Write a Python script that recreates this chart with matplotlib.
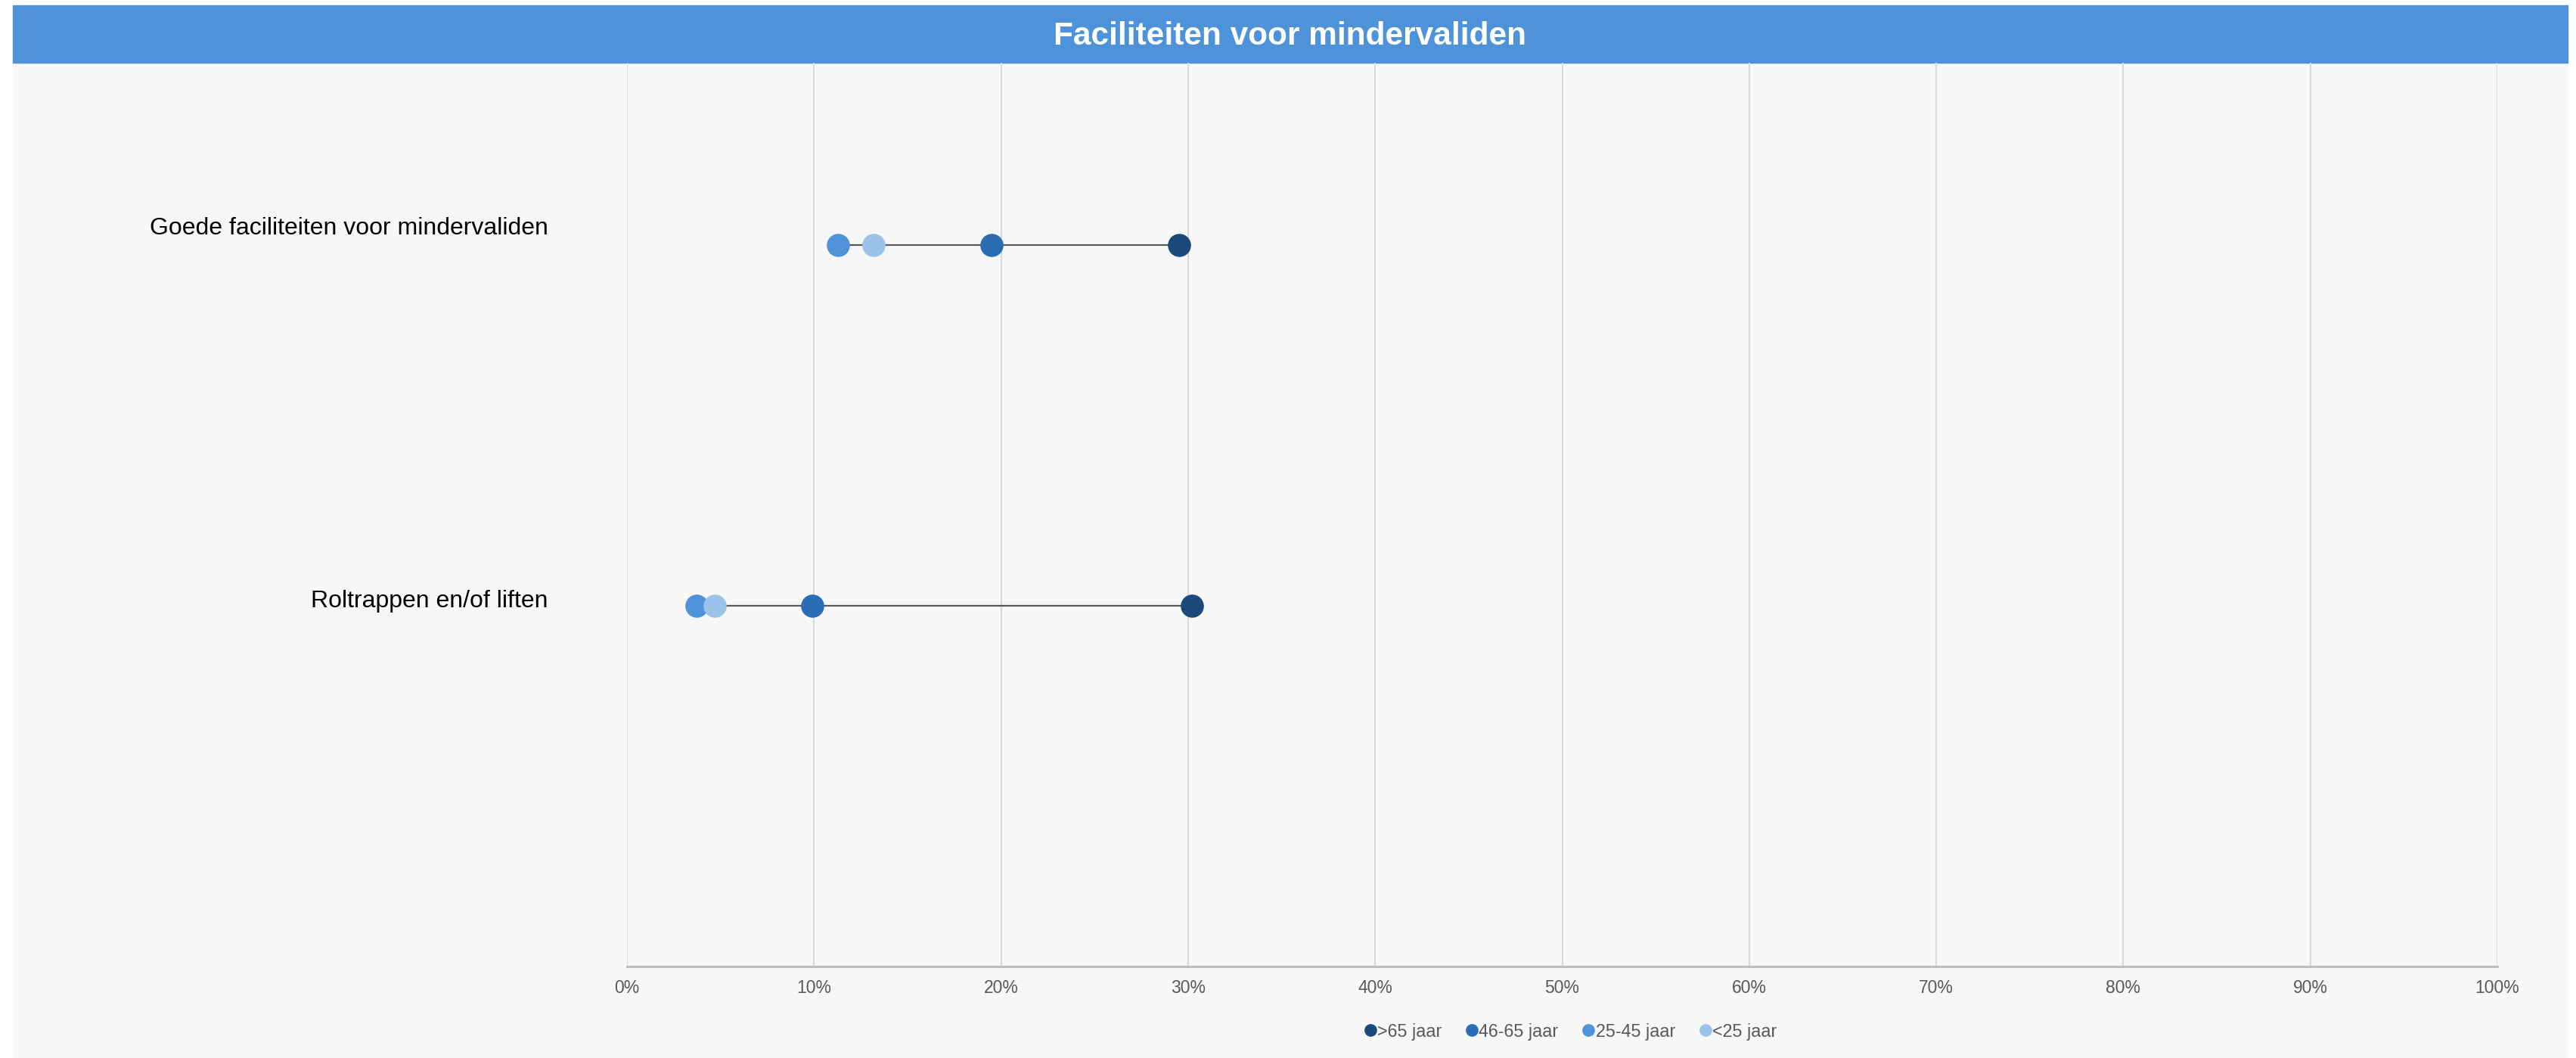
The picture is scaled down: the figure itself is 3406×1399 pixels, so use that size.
import matplotlib
matplotlib.use("Agg")
import matplotlib.pyplot as plt
from matplotlib.patches import Rectangle
from matplotlib.lines import Line2D
from matplotlib.ticker import PercentFormatter

plt.rcParams['font.family'] = ['Liberation Sans', 'DejaVu Sans']

# data
categories = ['Goede faciliteiten voor mindervaliden', 'Roltrappen en/of liften']
groups = ['>65 jaar', '46-65 jaar', '25-45 jaar', '<25 jaar']
ouder_65 = [29.5, 30.2]
jaar_46_65 = [19.5, 9.9]
jaar_25_45 = [11.3, 3.7]
jonger_25 = [13.2, 4.7]
x_ticks = [0, 10, 20, 30, 40, 50, 60, 70, 80, 90, 100]

colors = ['#1b4a7a', '#2a6db4', '#4e93d8', '#9bc2e9']
W, H = 3406, 1399

fig = plt.figure(figsize=(W / 100, H / 100), dpi=100)
fig.patch.set_facecolor('white')

# background + title band
fig.add_artist(Rectangle((17 / W, 0), (3395 - 17) / W, (H - 83) / H,
                         transform=fig.transFigure, color='#f7f7f7', zorder=0))
fig.add_artist(Rectangle((17 / W, (H - 83) / H), (3395 - 17) / W, 76 / H,
                         transform=fig.transFigure, color='#4e93d9', zorder=0))
fig.text(1705 / W, (H - 59) / H, 'Faciliteiten voor mindervaliden', color='white',
         fontsize=30.5, fontweight='bold', ha='center', va='baseline')

ax = fig.add_axes([829 / W, (H - 1278) / H, (3302 - 829) / W, (1278 - 83) / H])
ax.set_facecolor('none')

series = [ouder_65, jaar_46_65, jaar_25_45, jonger_25]
ypos = [2, 1]  # first category on top

# connecting lines
for i in range(len(categories)):
    vals = [s[i] for s in series]
    ax.plot([min(vals), max(vals)], [ypos[i], ypos[i]], color='#595959',
            lw=1.6, zorder=2, solid_capstyle='butt')

for s, c, name in zip(series, colors, groups):
    ax.plot(s, ypos, 'o', ms=21, color=c, mec=c, zorder=3, label=name)

ax.set_xlim(0, 100)
ax.set_ylim(0, 2.505)
ax.set_xticks(x_ticks)
ax.xaxis.set_major_formatter(PercentFormatter(decimals=0))
ax.set_yticks([])
ax.tick_params(axis='x', length=0, pad=12.5, labelsize=16.5, labelcolor='#595959')
ax.grid(axis='x', color='#d9d9d9', lw=1.5)
ax.set_axisbelow(True)
for side in ['top', 'left', 'right']:
    ax.spines[side].set_visible(False)
ax.spines['bottom'].set_color('#bfbfbf')
ax.spines['bottom'].set_linewidth(2.2)
ax.spines['bottom'].set_zorder(1)

# category labels
label_dy = [15.5, 4.5]
for cat, y, dy in zip(categories, ypos, label_dy):
    ax.annotate(cat, xy=(0, y), xycoords=('axes fraction', 'data'),
                xytext=(-75, dy), textcoords='offset points',
                ha='right', va='center', fontsize=23, color='black')

handles = [Line2D([], [], marker='o', ls='none', ms=11, color=c) for c in colors]
fig.legend(handles, groups, loc='center', bbox_to_anchor=(2077 / W, (H - 1364) / H),
           ncol=4, frameon=False, fontsize=16.8, labelcolor='#595959',
           handlelength=0.6, handletextpad=0.1, columnspacing=1.4)

fig.savefig('out.png', dpi=100, facecolor='white')
